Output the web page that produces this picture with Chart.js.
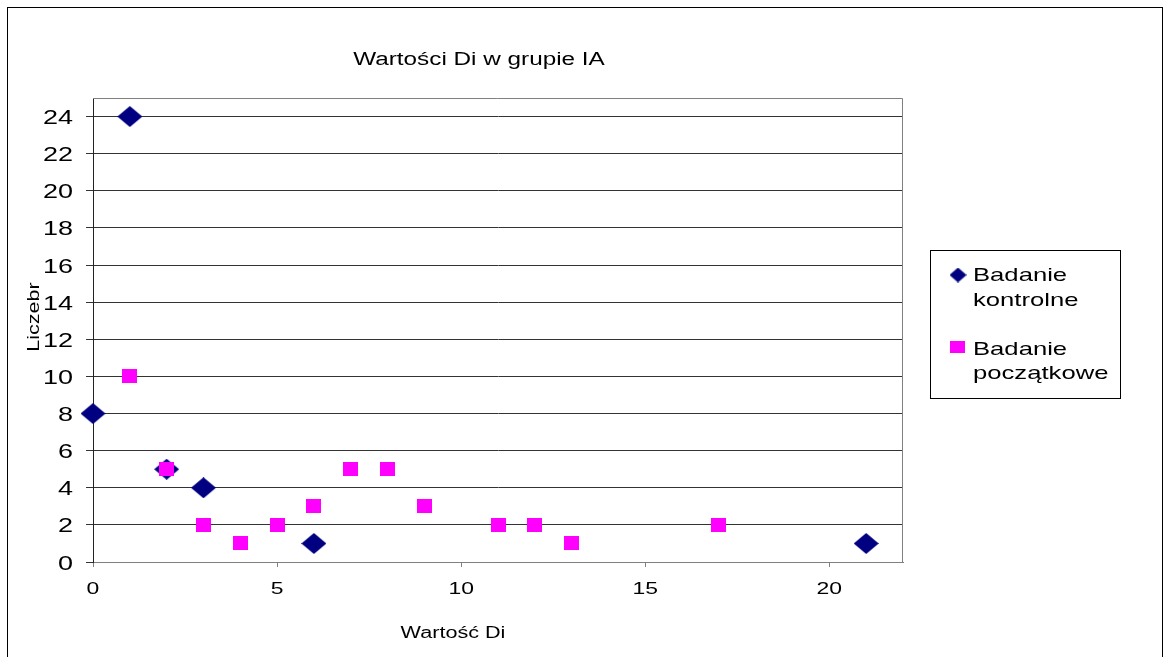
<!DOCTYPE html>
<html>
<head>
<meta charset="utf-8">
<script src="https://cdn.jsdelivr.net/npm/chart.js@4/dist/chart.umd.min.js"></script>
<style>
  html, body { margin: 0; padding: 0; background: #fff; }
  #wrap { width: 1168px; height: 657px; position: relative; }
</style>
</head>
<body>
<div id="wrap"><canvas id="c" width="1168" height="657"></canvas></div>
<script>
// Wartości Di – grupa IA
const kontrolneX = [0, 1, 2, 3, 6, 21];
const kontrolneY = [8, 24, 5, 4, 1, 1];
const poczatkoweX = [1, 2, 3, 4, 5, 6, 7, 8, 9, 11, 12, 13, 17];
const poczatkoweY = [10, 5, 2, 1, 2, 3, 5, 5, 3, 2, 2, 1, 2];
const seriesNames = ['Badanie kontrolne', 'Badanie początkowe'];
const xTicks = [0, 5, 10, 15, 20];
const yTicks = [0, 2, 4, 6, 8, 10, 12, 14, 16, 18, 20, 22, 24];
const chartTitle = 'Wartości Di w grupie IA';
const xTitle = 'Wartość Di';
const yTitle = 'Liczebr';

const NAVY = '#000080';
const MAGENTA = '#FF00FF';
const FONT = '"Liberation Sans", Arial, sans-serif';
const STRETCH = 1.35; // wide lettering of the original layout

function markerDiamond(w, h) {
  const c = document.createElement('canvas');
  c.width = w; c.height = h;
  const g = c.getContext('2d');
  g.fillStyle = NAVY;
  g.beginPath();
  g.moveTo(w / 2, 0); g.lineTo(w, h / 2); g.lineTo(w / 2, h); g.lineTo(0, h / 2);
  g.closePath(); g.fill();
  return c;
}
function markerSquare(w, h) {
  const c = document.createElement('canvas');
  c.width = w; c.height = h;
  const g = c.getContext('2d');
  g.fillStyle = MAGENTA;
  g.fillRect(0, 0, w, h);
  return c;
}
const diamondImg = markerDiamond(25, 21);
const squareImg = markerSquare(15, 14);

function toPoints(xs, ys) { return xs.map((x, i) => ({ x: x, y: ys[i] })); }

function stretchedText(ctx, text, x, y, size, align, baseline, rotate) {
  ctx.save();
  ctx.translate(x, y);
  if (rotate) ctx.rotate(rotate);
  ctx.scale(STRETCH, 1);
  ctx.font = size + 'px ' + FONT;
  ctx.fillStyle = '#000';
  ctx.textAlign = align;
  ctx.textBaseline = baseline;
  ctx.fillText(text, 0, 0);
  ctx.restore();
}

// Page background, outer frame and the plot-area frame
const framePlugin = {
  id: 'frame',
  beforeDraw(chart) {
    const ctx = chart.ctx;
    ctx.save();
    ctx.fillStyle = '#fff';
    ctx.fillRect(0, 0, chart.width, chart.height);
    ctx.strokeStyle = '#000';
    ctx.lineWidth = 1;
    ctx.strokeRect(7.5, 7.5, 1155, 720);
    ctx.restore();
  },
  beforeDatasetsDraw(chart) {
    const a = chart.chartArea;
    const ctx = chart.ctx;
    ctx.save();
    ctx.strokeStyle = '#808080';
    ctx.lineWidth = 1;
    ctx.beginPath();
    ctx.moveTo(a.left, a.top + 0.5);
    ctx.lineTo(a.right - 0.5, a.top + 0.5);
    ctx.lineTo(a.right - 0.5, a.bottom);
    ctx.stroke();
    ctx.restore();
  }
};

// Titles, tick labels and legend lettering
const textPlugin = {
  id: 'texts',
  afterDraw(chart) {
    const ctx = chart.ctx;
    const xs = chart.scales.x, ys = chart.scales.y;
    stretchedText(ctx, chartTitle, 479, 65, 18, 'center', 'alphabetic');
    stretchedText(ctx, xTitle, 453, 638, 16, 'center', 'alphabetic');
    stretchedText(ctx, yTitle, 39, 317, 16, 'center', 'alphabetic', -Math.PI / 2);
    yTicks.forEach(v => {
      stretchedText(ctx, String(v), 73, ys.getPixelForValue(v) + 7.5, 20, 'right', 'alphabetic');
    });
    xTicks.forEach(v => {
      stretchedText(ctx, String(v), xs.getPixelForValue(v), 594, 17, 'center', 'alphabetic');
    });

    // legend
    ctx.save();
    ctx.strokeStyle = '#000';
    ctx.lineWidth = 1;
    ctx.strokeRect(930.5, 250.5, 190, 148);
    ctx.drawImage(markerDiamond(17, 15), 958 - 8.5, 275 - 7.5);
    ctx.drawImage(markerSquare(15, 12), 950, 341);
    ctx.restore();
    const lines = seriesNames.map(n => n.split(' '));
    stretchedText(ctx, lines[0][0], 973, 281, 19, 'left', 'alphabetic');
    stretchedText(ctx, lines[0][1], 973, 306, 19, 'left', 'alphabetic');
    stretchedText(ctx, lines[1][0], 973, 355, 19, 'left', 'alphabetic');
    stretchedText(ctx, lines[1][1], 973, 379, 19, 'left', 'alphabetic');
  }
};

new Chart(document.getElementById('c'), {
  type: 'scatter',
  data: {
    datasets: [
      {
        label: seriesNames[0],
        data: toPoints(kontrolneX, kontrolneY),
        pointStyle: diamondImg,
        backgroundColor: NAVY,
        borderColor: NAVY,
        order: 2
      },
      {
        label: seriesNames[1],
        data: toPoints(poczatkoweX, poczatkoweY),
        pointStyle: squareImg,
        backgroundColor: MAGENTA,
        borderColor: MAGENTA,
        order: 1
      }
    ]
  },
  options: {
    responsive: false,
    animation: false,
    devicePixelRatio: 1,
    clip: false,
    layout: { padding: { left: 0, top: 98, right: 265, bottom: 0 } },
    plugins: {
      legend: { display: false },
      title: { display: false },
      tooltip: { enabled: false }
    },
    scales: {
      x: {
        type: 'linear',
        min: 0,
        max: 22,
        afterBuildTicks(scale) { scale.ticks = xTicks.map(v => ({ value: v })); },
        afterFit(scale) { scale.height = 95; },
        ticks: { display: false },
        grid: {
          drawOnChartArea: false,
          drawTicks: true,
          tickLength: 5,
          tickColor: '#808080'
        },
        border: { display: true, color: '#808080', width: 1 }
      },
      y: {
        type: 'linear',
        min: 0,
        max: 25,
        afterBuildTicks(scale) { scale.ticks = yTicks.map(v => ({ value: v })); },
        afterFit(scale) { scale.width = 93; },
        ticks: { display: false },
        grid: {
          color: '#333',
          lineWidth: 1,
          drawTicks: true,
          tickLength: 7,
          tickColor: '#333'
        },
        border: { display: true, color: '#222', width: 1 }
      }
    }
  },
  plugins: [framePlugin, textPlugin]
});
</script>
</body>
</html>
